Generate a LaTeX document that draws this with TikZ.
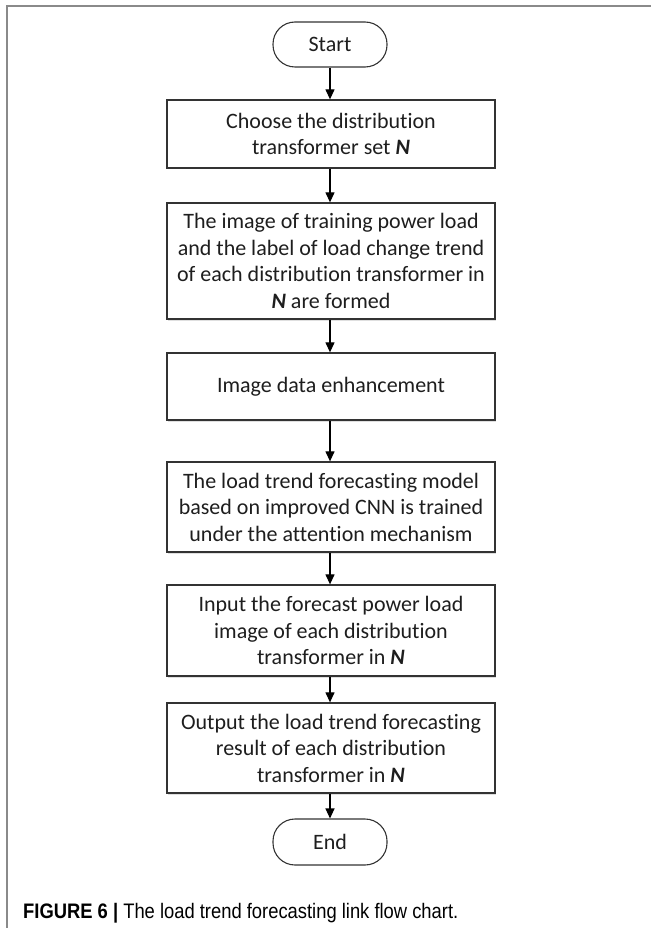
\documentclass[tikz,border=0pt]{standalone}
\usepackage{fontspec}
\setmainfont{Carlito}[Ligatures={NoCommon}]
\newfontfamily\capfont{Liberation Sans}
\usetikzlibrary{arrows.meta,shadows}
\definecolor{framegray}{HTML}{8A8A8A}
\definecolor{linedark}{HTML}{333333}
\definecolor{txt}{HTML}{1E1E1E}
\newcommand{\NN}{\textbf{\textit{N}}}
\tikzset{
  procbox/.style={draw=linedark, line width=1.3pt, fill=white, minimum width=328pt,
    align=center, text=txt, font=\fontsize{22}{26.5}\selectfont, inner sep=0pt,
    drop shadow={shadow xshift=1.2pt, shadow yshift=-1.5pt, opacity=0.25, fill=gray}},
  termbox/.style={draw=linedark, line width=1.1pt, fill=white, minimum width=114pt,
    rounded corners=22pt, text=txt, font=\fontsize{22}{26.5}\selectfont, inner sep=0pt},
  flow/.style={draw=black, line width=1.2pt, -{Triangle[length=10pt,width=9pt]}}
}
\begin{document}
\begin{tikzpicture}[x=1pt,y=1pt]
\useasboundingbox (0,0) rectangle (651,-928);
\draw[framegray, line width=2pt] (7,-928) -- (7,-6) -- (651,-6);

\node[termbox, minimum height=45pt] (start) at (330,-44.5) {Start};
\node[procbox, minimum height=68pt] (b1) at (331,-134) {Choose the distribution\\transformer set \NN};
\node[procbox, minimum height=116pt] (b2) at (331,-261) {The image of training power load\\and the label of load change trend\\of each distribution transformer in\\\NN{} are formed};
\node[procbox, minimum height=67pt] (b3) at (331,-386.5) {Image data enhancement};
\node[procbox, minimum height=90pt] (b4) at (331,-507) {The load trend forecasting model\\based on improved CNN is trained\\under the attention mechanism};
\node[procbox, minimum height=91pt] (b5) at (331,-630.5) {Input the forecast power load\\image of each distribution\\transformer in \NN};
\node[procbox, minimum height=90pt] (b6) at (331,-748) {Output the load trend forecasting\\result of each distribution\\transformer in \NN};
\node[termbox, minimum height=46pt] (end) at (330,-842) {End};

\draw[flow] (start.south) -- (start.south |- b1.north);
\draw[flow] (b1.south -| start.south) -- (start.south |- b2.north);
\draw[flow] (b2.south -| start.south) -- (start.south |- b3.north);
\draw[flow] (b3.south -| start.south) -- (start.south |- b4.north);
\draw[flow] (b4.south -| start.south) -- (start.south |- b5.north);
\draw[flow] (b5.south -| start.south) -- (start.south |- b6.north);
\draw[flow] (b6.south -| start.south) -- (end.north);

\node[anchor=base west, inner sep=0pt, font=\capfont\fontsize{21}{24}\selectfont] (cap) at (23,-918)
  {\scalebox{0.875}[1]{\textbf{FIGURE 6 |} The load trend forecasting link flow chart.}};
\end{tikzpicture}
\end{document}
